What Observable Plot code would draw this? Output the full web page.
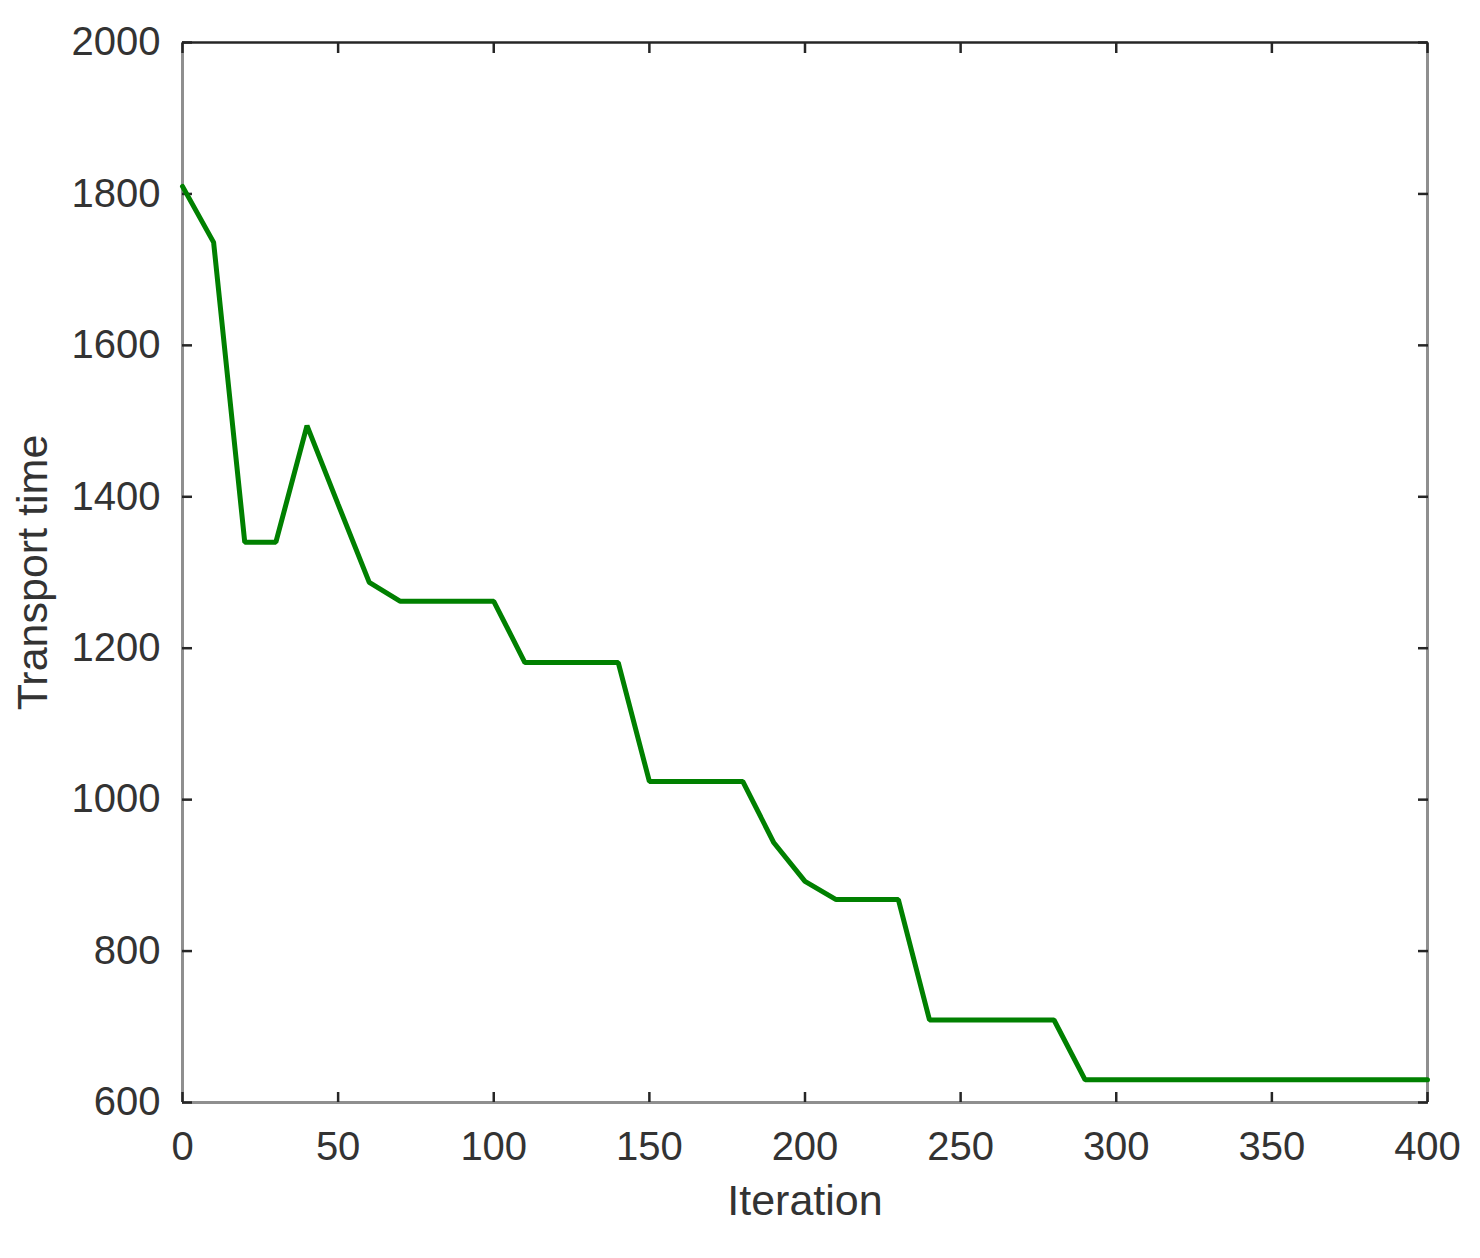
<!DOCTYPE html>
<html>
<head>
<meta charset="utf-8">
<script src="https://cdn.jsdelivr.net/npm/d3@7"></script>
<script src="https://cdn.jsdelivr.net/npm/@observablehq/plot@0.6"></script>
<style>
  html, body { margin: 0; padding: 0; background: #fff; }
</style>
</head>
<body>
<div id="chart"></div>
<script>
const iterations = [0, 10, 20, 30, 40, 50, 60, 70, 80, 90, 100, 110, 120, 130, 140, 150, 160, 170, 180, 190, 200, 210, 220, 230, 240, 250, 260, 270, 280, 290, 300, 310, 320, 330, 340, 350, 360, 370, 380, 390, 400];
const transportTime = [1810, 1736, 1340, 1340, 1494, 1390, 1287, 1262, 1262, 1262, 1262, 1181, 1181, 1181, 1181, 1024, 1024, 1024, 1024, 943, 892, 868, 868, 868, 709, 709, 709, 709, 709, 630, 630, 630, 630, 630, 630, 630, 630, 630, 630, 630, 630];
const xTicks = [0, 50, 100, 150, 200, 250, 300, 350, 400];
const yTicks = [600, 800, 1000, 1200, 1400, 1600, 1800, 2000];

const data = iterations.map((x, i) => ({x, y: transportTime[i]}));

const textColor = "#333333";
const tickColor = "#262626";
const frameGrey = "#8f8f8f";

const chart = Plot.plot({
  width: 1480,
  height: 1258,
  marginLeft: 182,
  marginRight: 53,
  marginTop: 42,
  marginBottom: 156,
  style: {fontFamily: "'Liberation Sans', Arial, sans-serif", fontSize: "40px", color: textColor, background: "#fff"},
  x: {domain: [0, 400]},
  y: {domain: [600, 2000]},
  marks: [
    // frame
    Plot.ruleX([0], {stroke: frameGrey, strokeWidth: 3}),
    Plot.ruleX([400], {stroke: frameGrey, strokeWidth: 3}),
    Plot.ruleY([600], {stroke: frameGrey, strokeWidth: 3}),
    Plot.ruleY([2000], {stroke: tickColor, strokeWidth: 2.5}),
    // inward ticks
    Plot.axisX({anchor: "bottom", ticks: xTicks, tickSize: -10, text: null, label: null, stroke: tickColor, strokeWidth: 2.5}),
    Plot.axisX({anchor: "top", ticks: xTicks, tickSize: -10, text: null, label: null, stroke: tickColor, strokeWidth: 2.5}),
    Plot.axisY({anchor: "left", ticks: yTicks, tickSize: -10, text: null, label: null, stroke: tickColor, strokeWidth: 2.5}),
    Plot.axisY({anchor: "right", ticks: yTicks, tickSize: -10, text: null, label: null, stroke: tickColor, strokeWidth: 2.5}),
    // tick labels
    Plot.axisX({anchor: "bottom", ticks: xTicks, tickSize: 0, tickPadding: 29, tickFormat: d => String(d),
      label: null, fill: textColor, fontSize: 40}),
    Plot.axisY({anchor: "left", ticks: yTicks, tickSize: 0, tickPadding: 22, tickFormat: d => String(d),
      label: null, fill: textColor, fontSize: 40}),
    // axis titles
    Plot.axisX({anchor: "bottom", ticks: [], tickSize: 0,
      label: "Iteration", labelAnchor: "center", labelOffset: 112, labelArrow: "none", fill: textColor, fontSize: 43}),
    Plot.axisY({anchor: "left", ticks: [], tickSize: 0,
      label: "Transport time", labelAnchor: "center", labelOffset: 166, labelArrow: "none", fill: textColor, fontSize: 43}),
    // series
    Plot.line(data, {x: "x", y: "y", stroke: "#008000", strokeWidth: 5, strokeLinejoin: "miter"})
  ]
});

document.getElementById("chart").appendChild(chart);
</script>
</body>
</html>
